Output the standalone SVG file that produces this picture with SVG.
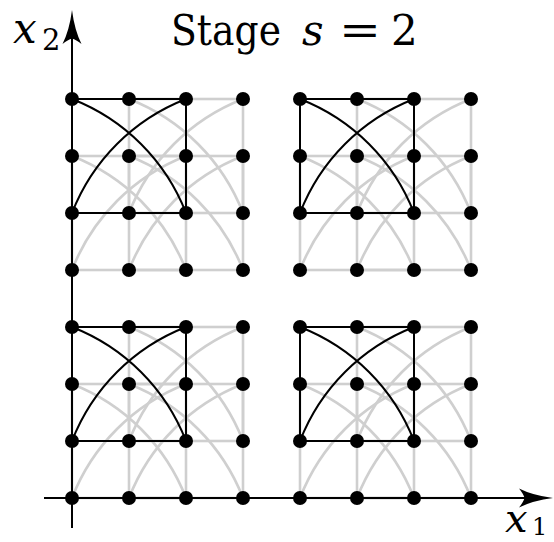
<svg xmlns="http://www.w3.org/2000/svg" xmlns:xlink="http://www.w3.org/1999/xlink" width="554" height="542" viewBox="0 0 554 542">
<style>
.gray{fill:none;stroke:#cfcfcf;stroke-width:2.6}
.black{fill:none;stroke:#000;stroke-width:2}
.axis{stroke:#000;stroke-width:2;fill:none}
.head{fill:#000;stroke:none}
.dot{fill:#000}
.lbl{font-family:'DejaVu Serif',serif;fill:#000}
.it{font-style:italic}
</style>
<defs>
<g id="cell">
<rect x="0" y="0" width="114" height="114"/>
<path d="M0,0 A200,200 0 0 1 114,114 M0,114 A200,200 0 0 1 114,0"/>
</g>
<g id="dots">
<circle cx="0" cy="0" r="7"/><circle cx="57" cy="0" r="7"/><circle cx="114" cy="0" r="7"/><circle cx="171" cy="0" r="7"/>
<circle cx="0" cy="57" r="7"/><circle cx="57" cy="57" r="7"/><circle cx="114" cy="57" r="7"/><circle cx="171" cy="57" r="7"/>
<circle cx="0" cy="114" r="7"/><circle cx="57" cy="114" r="7"/><circle cx="114" cy="114" r="7"/><circle cx="171" cy="114" r="7"/>
<circle cx="0" cy="171" r="7"/><circle cx="57" cy="171" r="7"/><circle cx="114" cy="171" r="7"/><circle cx="171" cy="171" r="7"/>
</g>
</defs>

<g id="connectors">
<g id="gray-cells" class="gray">
<use xlink:href="#cell" href="#cell" transform="translate(129,99)"/>
<use xlink:href="#cell" href="#cell" transform="translate(72,156)"/>
<use xlink:href="#cell" href="#cell" transform="translate(129,156)"/>
<use xlink:href="#cell" href="#cell" transform="translate(357,99)"/>
<use xlink:href="#cell" href="#cell" transform="translate(300,156)"/>
<use xlink:href="#cell" href="#cell" transform="translate(357,156)"/>
<use xlink:href="#cell" href="#cell" transform="translate(129,327)"/>
<use xlink:href="#cell" href="#cell" transform="translate(72,384)"/>
<use xlink:href="#cell" href="#cell" transform="translate(129,384)"/>
<use xlink:href="#cell" href="#cell" transform="translate(357,327)"/>
<use xlink:href="#cell" href="#cell" transform="translate(300,384)"/>
<use xlink:href="#cell" href="#cell" transform="translate(357,384)"/>
</g>
<g id="black-cells" class="black">
<use xlink:href="#cell" href="#cell" transform="translate(72,99)"/>
<use xlink:href="#cell" href="#cell" transform="translate(300,99)"/>
<use xlink:href="#cell" href="#cell" transform="translate(72,327)"/>
<use xlink:href="#cell" href="#cell" transform="translate(300,327)"/>
</g>
</g>

<g id="axes">
<line class="axis" x1="72" y1="528" x2="72" y2="38"/>
<path class="head" d="M72,10 Q74.5,30 81.5,44 Q76,39.5 72,38.5 Q68,39.5 62.5,44 Q69.5,30 72,10 Z"/>
<line class="axis" x1="44" y1="498" x2="526" y2="498"/>
<path class="head" d="M553,498 Q533,500.5 519,507.5 Q523.5,502 524.5,498 Q523.5,494 519,488.5 Q533,495.5 553,498 Z"/>
</g>

<g id="dots-top-left" class="dot"><use xlink:href="#dots" href="#dots" transform="translate(72,99)"/></g>
<g id="dots-top-right" class="dot"><use xlink:href="#dots" href="#dots" transform="translate(300,99)"/></g>
<g id="dots-bottom-left" class="dot"><use xlink:href="#dots" href="#dots" transform="translate(72,327)"/></g>
<g id="dots-bottom-right" class="dot"><use xlink:href="#dots" href="#dots" transform="translate(300,327)"/></g>

<g id="labels">
<text class="lbl" font-size="42" y="45"><tspan x="171" textLength="110" lengthAdjust="spacingAndGlyphs">Stage</tspan><tspan x="302" class="it">s</tspan><tspan x="339" textLength="42" lengthAdjust="spacingAndGlyphs">=</tspan><tspan x="391">2</tspan></text>
<text class="lbl" y="43"><tspan x="13" font-size="42" class="it">x</tspan><tspan x="42" y="50" font-size="29">2</tspan></text>
<text class="lbl" y="532"><tspan x="505" font-size="40" class="it">x</tspan><tspan x="532" y="535" font-size="24">1</tspan></text>
</g>
</svg>
